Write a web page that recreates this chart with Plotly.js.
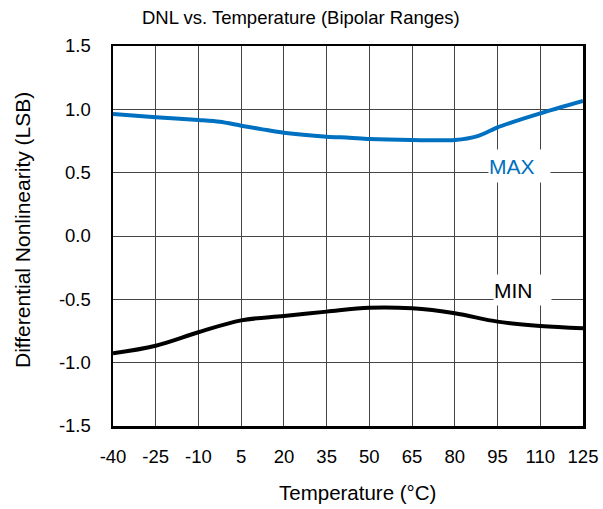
<!DOCTYPE html>
<html>
<head>
<meta charset="utf-8">
<script src="https://cdn.plot.ly/plotly-3.0.1.min.js"></script>
<style>
  html, body { margin: 0; padding: 0; background: #fff; }
  #chart { width: 603px; height: 509px; }
</style>
</head>
<body>
<div id="chart"></div>
<script>
// DNL over temperature, bipolar ranges
const maxTemp = [-40, -25, -10, -2.5, 5, 12.5, 20, 35, 43, 50, 65, 80, 88, 95, 100, 110, 125];
const maxDnl  = [0.963, 0.937, 0.916, 0.902, 0.871, 0.842, 0.815, 0.784, 0.776, 0.766, 0.758, 0.758, 0.789, 0.858, 0.897, 0.968, 1.066];

const minTemp = [-40, -25, -10, 5, 20, 35, 50, 65, 80, 95, 110, 125];
const minDnl  = [-0.926, -0.866, -0.76, -0.666, -0.632, -0.597, -0.566, -0.571, -0.61, -0.676, -0.71, -0.728];

const xTicks = [-40, -25, -10, 5, 20, 35, 50, 65, 80, 95, 110, 125];
const yTicks = [-1.5, -1.0, -0.5, 0.0, 0.5, 1.0, 1.5];
const yTickText = ['-1.5', '-1.0', '-0.5', '0.0', '0.5', '1.0', '1.5'];

const FONT = 'Arial, "Liberation Sans", sans-serif';

const traces = [
  {
    x: maxTemp, y: maxDnl, type: 'scatter', mode: 'lines',
    line: { color: '#0070C0', width: 4, shape: 'spline', smoothing: 0.8 },
    hoverinfo: 'skip'
  },
  {
    x: minTemp, y: minDnl, type: 'scatter', mode: 'lines',
    line: { color: '#000000', width: 4, shape: 'spline', smoothing: 1 },
    hoverinfo: 'skip'
  }
];

const layout = {
  width: 603, height: 509,
  margin: { l: 113, r: 20, t: 46, b: 83 },
  paper_bgcolor: '#ffffff', plot_bgcolor: '#ffffff',
  showlegend: false,
  font: { family: FONT, size: 18, color: '#000' },
  xaxis: {
    range: [-40, 125], tickvals: xTicks, ticktext: xTicks.map(String),
    showgrid: true, gridcolor: '#444', gridwidth: 1,
    showline: true, linecolor: '#000', linewidth: 2.5, mirror: true,
    ticks: '', ticklabelstandoff: 12, zeroline: false,
    tickfont: { family: FONT, size: 18.5, color: '#000' }
  },
  yaxis: {
    range: [-1.5, 1.5], tickvals: yTicks, ticktext: yTickText,
    showgrid: true, gridcolor: '#444', gridwidth: 1,
    showline: true, linecolor: '#000', linewidth: 2.5, mirror: true,
    ticks: '', ticklabelstandoff: 16, zeroline: false,
    tickfont: { family: FONT, size: 18.5, color: '#000' }
  },
  annotations: [
    {
      text: 'DNL vs. Temperature (Bipolar Ranges)', xref: 'paper', yref: 'paper',
      x: (300.5 - 113) / 470, y: 1 + (46 - 17) / 380, xanchor: 'center', yanchor: 'middle',
      showarrow: false, font: { family: FONT, size: 18.5, color: '#000' }
    },
    {
      text: 'Temperature (°C)', xref: 'paper', yref: 'paper',
      x: (357 - 113) / 470, y: -(492 - 426) / 380, xanchor: 'center', yanchor: 'middle',
      showarrow: false, font: { family: FONT, size: 20.5, color: '#000' }
    },
    {
      text: 'Differential Nonlinearity (LSB)', xref: 'paper', yref: 'paper',
      x: -(113 - 23) / 470, y: (426 - 230) / 380, xanchor: 'center', yanchor: 'middle',
      textangle: -90, showarrow: false, font: { family: FONT, size: 21, color: '#000' }
    },
    {
      text: 'MAX', xref: 'x', yref: 'y', x: 102.6, y: 0.552,
      xanchor: 'center', yanchor: 'middle', width: 61, height: 32, align: 'left',
      bgcolor: '#ffffff', borderpad: 0, showarrow: false,
      font: { family: FONT, size: 21, color: '#0070C0' }
    },
    {
      text: 'MIN', xref: 'x', yref: 'y', x: 103.6, y: -0.43,
      xanchor: 'center', yanchor: 'middle', width: 57, height: 30, align: 'left',
      bgcolor: '#ffffff', borderpad: 0, showarrow: false,
      font: { family: FONT, size: 21, color: '#000' }
    }
  ]
};

Plotly.newPlot('chart', traces, layout, { staticPlot: true, displayModeBar: false });
</script>
</body>
</html>
